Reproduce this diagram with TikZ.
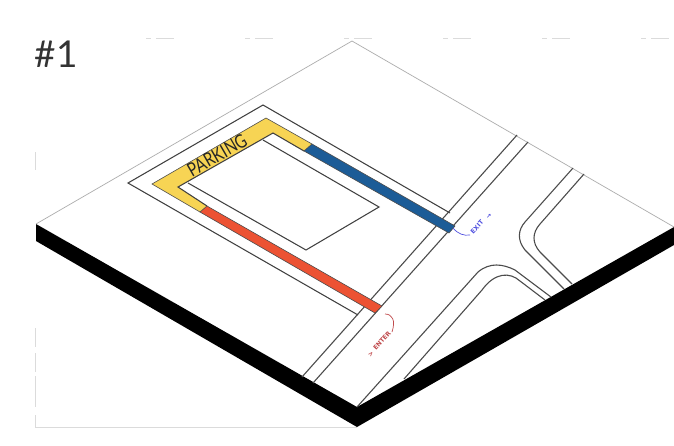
\documentclass[tikz,border=0pt]{standalone}
\usepackage{fontspec}
\setmainfont{Lato}
\newfontfamily\dejab{DejaVu Sans}[BoldFont=* Bold]
\definecolor{pyellow}{HTML}{F7D454}
\definecolor{pblue}{HTML}{1C5C97}
\definecolor{pred}{HTML}{EC5233}
\definecolor{pexit}{HTML}{5050E0}
\definecolor{penter}{HTML}{C04A4C}
\tikzset{
  faint/.style={draw=black!14,line width=0.8pt},
  slabedge/.style={draw=black!32,line width=0.7pt},
  roadline/.style={draw=black!70,line width=1.1pt,line join=round},
  frameline/.style={draw=black!75,line width=1.05pt,line join=miter},
  strip/.style={draw=black!70,line width=0.6pt},
  tinylabel/.style={inner sep=0pt,font=\dejab\bfseries\fontsize{6.2}{6.2}\selectfont,rotate=48}
}
\begin{document}
\begin{tikzpicture}[x=1pt,y=-1pt]
\useasboundingbox (0,0) rectangle (674,445);
\fill[white] (0,0) rectangle (674,445);
% faint sheet frame
\foreach \dx in {0,99,198,297,396,495}{
  \draw[faint] (146+\dx,38) -- (151+\dx,38) (156+\dx,38) -- (174+\dx,38);
}
\draw[faint] (35,328) -- (35,347) (35,353) -- (35,372) (35,376) -- (35,407) (35,415) -- (35,427) -- (357,427);
\draw[faint] (35,152) -- (35,170);
% slab
\fill[black] (36,224) -- (357,407) -- (674,227) -- (674,245) -- (357,427) -- (36,241) -- cycle;
\draw[slabedge] (36,224) -- (352,41) -- (674,227);
% roads
\draw[roadline] (517,135) -- (302,377);
\draw[roadline] (528,142) -- (313,383);
\draw[roadline] (573,168) -- (525,222) .. controls (518,230) and (517,240) .. (525,250) -- (564,289);
\draw[roadline] (584,174) -- (540,224) .. controls (532,233) and (532,243) .. (540,252) -- (572,284);
\draw[roadline] (357,407) -- (478,272) .. controls (490,262) and (503,264) .. (515,270) -- (551,297);
\draw[roadline] (404,379) -- (482,290) .. controls (495,272) and (510,272) .. (520,281) -- (545,300);
% parking frame
\draw[frameline] (450,213) -- (263,105) -- (128,183) -- (358,315);
% building
\draw[frameline] (263,140) -- (379,207) -- (306,250) -- (188,183);
% coloured strips
\fill[pyellow] (312,144) -- (266,118) -- (152,184) -- (200,212) -- (207,206) -- (178,187) -- (273,133) -- (304,151) -- cycle;
\draw[strip] (312,144) -- (266,118) -- (152,184) -- (200,212);
\draw[frameline] (207,206) -- (178,187) -- (273,133) -- (304,151);
\filldraw[fill=pblue,strip] (312,144) -- (455,226) -- (449,233) -- (304,151) -- cycle;
\filldraw[fill=pred,strip] (207,206) -- (382,306) -- (375,313) -- (200,212) -- cycle;
% labels
\node[inner sep=0pt,anchor=center,text=black!80] (title) at (56,54) {\fontsize{37}{37}\selectfont\#1};
\node[inner sep=0pt,rotate=30,text=black!85,xscale=0.8] (parking) at (217,155) {\fontsize{19}{19}\selectfont PARKING};
\node[tinylabel,text=pexit] (exit) at (477,227) {EXIT};
\node[tinylabel,text=pexit] (exitarrow) at (489,216) {→};
\node[tinylabel,text=penter] (enter) at (382,341) {ENTER};
\node[tinylabel,text=penter] (enterarrow) at (371,354) {>};
\draw[pexit,line width=0.7pt] (453,228) .. controls (458,234) and (464,236) .. (470,235);
\draw[penter,line width=0.7pt] (385,314) .. controls (392,314) and (396,320) .. (392,332);
\end{tikzpicture}
\end{document}
